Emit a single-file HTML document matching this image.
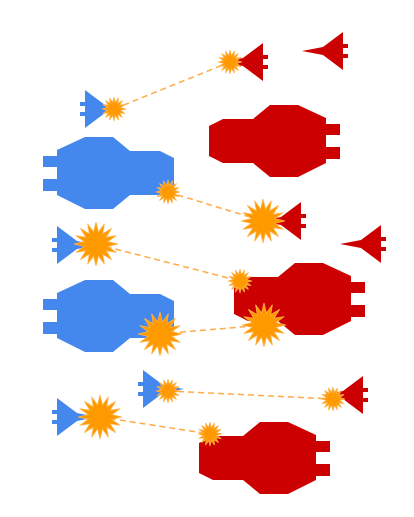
<!DOCTYPE html>
<html><head><meta charset="utf-8"><style>
html,body{margin:0;padding:0;background:#fff;width:414px;height:517px;overflow:hidden}
svg{display:block}
</style></head><body>
<svg id="scene" width="414" height="517" viewBox="0 0 414 517" xmlns="http://www.w3.org/2000/svg"></svg>
<script>
const NS='http://www.w3.org/2000/svg';
const svg=document.getElementById('scene');
// big ships: [x-left, y-center]
const blueBigX=[43,43];
const blueBigY=[173,316];
const redBigX=[209,234,199];
const redBigY=[141,299,458];
// fighters: [left x of body, center y]
const blueFX=[85,57,143,57];
const blueFY=[109,245,389,417];
const redFX=[302,340,322,260,222];
const redFY=[51,244,395,221,62];
// shots: from -> to
const shotX1=[114,168,96,160,168,100];
const shotY1=[109,192,244,334,391,417];
const shotX2=[230,263,240,264,333,210];
const shotY2=[62,221,281,325,399,434];
// explosions
const boomX=[230,114,168,263,96,240,160,264,168,333,100,210];
const boomY=[62,109,192,221,244,281,334,325,391,399,417,434];
const boomR=[12,12,12,22,22,12,22,22,12,12,22,12];

function mk(tag,attrs){const e=document.createElementNS(NS,tag);for(const k in attrs)e.setAttribute(k,attrs[k]);svg.appendChild(e);return e;}
const bigPts=[[14,-23],[42,-36],[70,-36],[87,-22],[117,-22],[131,-15],[131,15],[117,22],[87,22],[70,36],[42,36],[14,22]];
function bigShip(x0,yc,color,flip,name){
  const g=document.createElementNS(NS,'g');svg.appendChild(g);
  
  
  const tx=p=>flip?(x0+131-p):(x0+p);
  const pts=bigPts.map(p=>tx(p[0])+','+(yc+p[1])).join(' ');
  const poly=document.createElementNS(NS,'polygon');poly.setAttribute('points',pts);poly.setAttribute('fill',color);g.appendChild(poly);
  [[-17,11],[6,12]].forEach(n=>{const r=document.createElementNS(NS,'rect');
    r.setAttribute('x',flip?x0+117:x0);r.setAttribute('y',yc+n[0]);r.setAttribute('width',14);r.setAttribute('height',n[1]);r.setAttribute('fill',color);g.appendChild(r);});
}
function fighter(x0,yc,color,flip,name){
  const g=document.createElementNS(NS,'g');svg.appendChild(g);
  
  
  const W=41;
  const tx=p=>flip?(x0+W-p):(x0+p);
  const pp=[[0,-19],[20,-4],[41,0],[20,4],[0,19]];
  const poly=document.createElementNS(NS,'polygon');poly.setAttribute('points',pp.map(p=>tx(p[0])+','+(yc+p[1])).join(' '));poly.setAttribute('fill',color);g.appendChild(poly);
  [-7,3].forEach(dy=>{const r=document.createElementNS(NS,'rect');
    r.setAttribute('x',flip?x0+W:x0-5);r.setAttribute('y',yc+dy);r.setAttribute('width',5);r.setAttribute('height',4);r.setAttribute('fill',color);g.appendChild(r);});
}
for(let i=0;i<blueBigX.length;i++)bigShip(blueBigX[i],blueBigY[i],'#4488ee',false,'blue-cruiser-'+(i+1));
for(let i=0;i<redBigX.length;i++)bigShip(redBigX[i],redBigY[i],'#cc0000',true,'red-cruiser-'+(i+1));
for(let i=0;i<blueFX.length;i++)fighter(blueFX[i],blueFY[i],'#4488ee',false,'blue-fighter-'+(i+1));
for(let i=0;i<redFX.length;i++)fighter(redFX[i],redFY[i],'#cc0000',true,'red-fighter-'+(i+1));
for(let i=0;i<shotX1.length;i++){
  const l=mk('line',{x1:shotX1[i],y1:shotY1[i],x2:shotX2[i],y2:shotY2[i],stroke:'#ffaa44','stroke-width':1.5,'stroke-dasharray':'6,4'});
  
  
}
for(let i=0;i<boomX.length;i++){
  const n=16,pts=[];
  for(let k=0;k<n*2;k++){const a=Math.PI*k/n;const r=k%2?boomR[i]*0.55:boomR[i];pts.push((boomX[i]+r*Math.cos(a)).toFixed(1)+','+(boomY[i]+r*Math.sin(a)).toFixed(1));}
  const s=mk('polygon',{points:pts.join(' '),fill:'#ff9900',stroke:'#ffb347','stroke-width':0.8});
  
  
}
</script>
</body></html>
